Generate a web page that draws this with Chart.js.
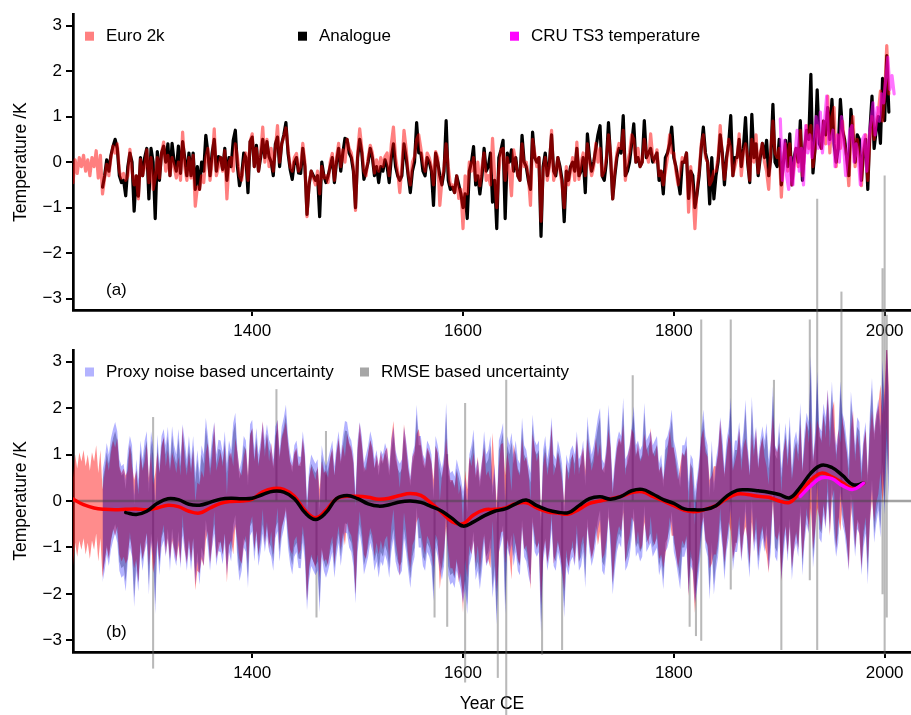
<!DOCTYPE html>
<html>
<head>
<meta charset="utf-8">
<script src="https://cdn.jsdelivr.net/npm/chart.js@4.4.1/dist/chart.umd.min.js"></script>
<style>
  html, body { margin: 0; padding: 0; background: #fff; }
  #wrap { position: relative; width: 911px; height: 715px; overflow: hidden; }
  canvas { position: absolute; left: 0; top: 0; }
</style>
</head>
<body>
<div id="wrap">
  <canvas id="chartTop" width="911" height="345"></canvas>
  <canvas id="chartBottom" width="911" height="715"></canvas>
</div>
<script>
// ---- data ----
// annual reconstructions, sampled every 2 years
const euroStart = 1230;
const euro2k = [
  -0.45, 0.05, -0.25, 0.1, -0.1,   0.15, -0.2, 0.05, -0.3, 0.1,
  -0.1, 0.25, -0.35, 0.15, -0.7,   -0.35, -0.05, -0.3, 0.1, 0.35,
  0.2, 0.4, -0.2, -0.35, -0.25,    -0.4, -0.3, 0.28, -0.2, -0.5,
  -0.3, -0.81, 0.06, -0.3, -0.1,   0.27, -0.45, 0.1, -0.6, -0.35,
  0.1, -0.35, 0.2, 0.44, -0.2,     0.15, -0.3, 0.1, -0.1, -0.35,
  0.0, -0.4, 0.66, -0.1, -0.4,     0.1, -0.35, 0.15, -0.97, -0.55,
  -0.6, -0.3, -0.45, 0.1, 0.3,     -0.4, 0.0, 0.73, -0.3, -0.1,
  0.1, -0.2, 0.25, -0.81, 0.0,     0.1, -0.2, 0.4, 0.1, -0.3,
  -0.4, 0.0, 0.2, -0.4, 0.45,      0.62, -0.1, 0.3, -0.2, 0.2,
  0.77, 0.0, 0.5, -0.1, 0.3,       -0.2, 0.3, 0.8, 0.0, 0.4,
  0.55, 0.75, 0.3, -0.1, -0.2,     0.1, 0.19, -0.2, -0.1, 0.41,
  0.0, -1.2, -0.45, -0.2, -0.35,   -0.5, -0.2, -0.7, -0.1, -0.35,
  -0.3, -0.45, 0.0, 0.19, -0.4,    0.1, 0.41, -0.1, 0.27, 0.0,
  0.5, 0.3, 0.2, -0.1, -1.06,      0.2, 0.73, 0.3, -0.2, -0.3,
  0.1, 0.37, 0.2, -0.24, 0.05,     -0.2, 0.1, -0.1, 0.12, 0.2,
  -0.3, 0.4, 0.77, 0.1, -0.2,      -0.67, -0.1, 0.7, 0.3, -0.24,
  -0.5, 0.0, 0.12, 0.5, 0.6,       0.3, 0.0, -0.2, 0.2, 0.1,
  -0.1, -0.5, 0.23, 0.1, -0.95,    -0.4, -0.1, 0.4, -0.1, -0.5,
  -0.5, -0.67, -0.3, -0.8, -0.6,   -1.46, -0.3, -0.7, 0.0, -0.2,
  0.1, -0.4, 0.0, -0.52, -0.1,     0.2, -0.4, -0.3, -0.5, 0.52,
  -0.3, -1.0, -0.2, 0.27, 0.3,     -0.4, 0.1, -0.2, -0.74, 0.27,
  0.0, -0.3, -0.4, 0.4, -0.1,      0.0, -0.3, -0.95, 0.5, 0.2,
  -0.1, 0.1, -1.3, -0.2, 0.1,      -0.4, -0.1, 0.7, -0.4, -0.2,
  0.1, -0.2, -0.5, -1.0, -0.1,     -0.5, -0.2, 0.1, -0.4, 0.44,
  -0.38, 0.0, 0.2, -0.3, 0.4,      0.0, -0.3, -0.1, 0.41, 0.0,
  0.3, -0.3, -0.2, 0.1, 0.6,       0.2, -0.81, -0.2, 0.2, 0.41,
  0.3, 0.7, -0.4, 0.0, 0.2,        0.6, 0.5, 0.0, 0.3, -0.1,
  0.0, 0.5, 0.2, 0.0, 0.62,        0.1, 0.0, 0.27, -0.3, -0.2,
  -0.5, -0.2, 0.1, 0.6, 0.2,       0.2, -0.2, -0.5, -0.2, 0.1,
  0.0, 0.2, -1.1, -0.1, -0.6,      -1.46, -0.6, -0.2, 0.4, 0.6,
  0.1, 0.0, -0.5, -0.4, -0.2,      -0.2, 0.1, 0.8, 0.1, -0.38,
  0.0, 0.5, 0.3, -0.3, -0.1,       0.1, 0.62, -0.3, 0.2, 0.4,
  0.1, -0.4, 0.5, 0.0, 0.6,        -0.24, 0.2, 0.41, 0.0, -0.2,
  -0.6, 0.3, 0.9, 0.2, 0.1,        0.3, -0.77, 0.1, 0.4, -0.2,
  0.4, -0.5, -0.1, 0.3, -0.1,      0.7, -0.3, 0.2, 0.8, 0.3,
  0.8, -0.1, 0.3, 0.8, 0.6,        0.3, 0.9, 0.4, 1.45, 0.2,
  1.0, 1.2, -0.1, 0.6, 0.3,        0.9, 0.4, 0.1, -0.52, 0.6,
  1.0, -0.1, 0.5, 0.2, -0.52,      0.3, 0.6, -0.4, 0.5, 1.0,
  0.5, 0.9, 1.1, 1.56, 0.9,        1.5, 2.56, 1.5
];

const analogueStart = 1258;
const analogue = [
  -0.55,
  -0.3, 0.05, -0.2, 0.15, 0.35,    0.5, 0.3, -0.3, -0.45, -0.4,
  -0.74, -0.1, 0.2, 0.0, -1.08,    -0.3, -0.75, 0.1, -0.3, 0.1,
  0.3, -0.81, 0.3, 0.0, -1.24,     0.23, -0.4, 0.2, 0.35, 0.0,
  0.4, -0.3, 0.41, 0.0, -0.2,      0.35, -0.25, 0.45, 0.1, -0.3,
  0.2, -0.3, 0.2, -0.6, -0.1,      -0.6, 0.0, -0.2, 0.59, 0.2,
  -0.3, 0.2, 0.5, -0.2, 0.12,      0.1, -0.16, 0.3, -0.4, 0.1,
  -0.1, 0.48, 0.7, -0.1, -0.52,    -0.3, 0.2, 0.1, -0.67, 0.45,
  0.55, -0.1, 0.37, -0.2, 0.1,     0.5, 0.1, 0.45, 0.12, 0.0,
  -0.3, 0.4, 0.55, -0.1, 0.4,      0.6, 0.87, 0.2, -0.16, -0.38,
  0.0, 0.1, -0.24, -0.25, 0.3,     -0.1, -1.15, -0.5, -0.2, -0.3,
  -0.4, -0.3, -1.2, 0.0, -0.3,     -0.45, -0.3, -0.1, 0.1, -0.45,
  0.0, 0.3, -0.2, 0.2, 0.52,       0.5, 0.2, 0.1, -0.2, -1.0,
  0.1, 0.5, 0.2, -0.38, -0.2,      0.0, 0.3, 0.1, -0.3, -0.1,
  -0.45, -0.1, -0.2, 0.05, -0.1,   -0.45, 0.1, 0.4, -0.1, -0.3,
  -0.4, -0.3, 0.4, 0.1, -0.3,      -0.67, -0.2, 0.0, 0.87, 0.2,
  0.2, -0.2, -0.3, 0.1, 0.0,       -0.2, -0.95, 0.2, 0.0, -0.3,
  -0.5, -0.2, 0.91, -0.4, -0.6,    -0.55, -0.67, -0.3, -0.5, -0.7,
  -1.0, -0.7, -1.24, -0.2, 0.0,    0.34, -0.5, -0.3, -0.7, -0.3,
  0.3, -0.2, -0.1, 0.2, -0.88,     -0.4, -1.46, 0.1, 0.27, 0.48,
  -1.24, 0.2, 0.0, 0.27, -0.2,     0.1, -0.3, -0.4, 0.59, 0.0,
  -0.1, -0.4, -0.6, 0.66, 0.1,     0.0, 0.1, -1.63, -0.1, 0.2,
  -0.3, 0.0, 0.6, -0.2, -0.3,      0.1, -0.1, -0.4, -1.31, -0.2,
  -0.4, -0.1, 0.0, -0.2, 0.3,      -0.3, -0.2, 0.1, -0.67, 0.62,
  0.1, -0.2, 0.0, 0.3, 0.6,        0.8, -0.3, -0.4, 0.0, 0.87,
  0.1, -0.81, -0.3, 0.1, 0.3,      0.2, 1.02, -0.3, -0.2, 0.0,
  0.4, 0.84, 0.0, 0.1, -0.1,       0.0, 0.91, 0.1, 0.2, 0.3,
  0.0, 0.1, 0.2, -0.4, -0.2,       -0.7, 0.1, 0.2, 0.4, 0.77,
  0.1, -0.1, -0.4, -0.7, 0.0,      0.0, 0.2, -0.8, -0.2, -0.3,
  -1.0, -0.7, -0.3, 0.3, 0.77,     0.2, 0.0, -0.92, 0.1, -0.81,
  -0.3, 0.0, 0.6, 0.2, -0.5,       0.1, 0.4, 1.02, -0.3, 0.1,
  0.1, 0.5, -0.1, 0.3, 0.98,       0.0, -0.45, 1.05, 0.1, 0.4,
  -0.3, 0.1, 0.41, 0.1, 0.48,      -0.3, 0.1, 1.27, 0.0, -0.1,
  0.5, -0.5, 0.0, 0.48, -0.1,      0.62, -0.5, 0.1, 0.3, 0.0,
  0.91, -0.4, 0.3, 0.7, 0.5,       1.93, -0.24, 0.3, 1.59, 0.4,
  0.3, 0.9, 0.6, 1.2, 0.5,         1.38, 0.4, 0.0, 0.3, 1.38,
  0.7, 0.5, 0.1, -0.3, 1.16,       0.6, 0.0, 0.6, 0.5, -0.4,
  0.2, 0.5, -0.6, 0.7, 1.45,       0.3, 0.7, 1.0, 0.41, 1.84,
  0.91, 2.34, 1.1
];

const cruStart = 1901;
const cru = [
  0.95, -0.4, 0.48, -0.3, -0.6,    0.1, -0.5, 0.2, 0.7, -0.2,
  0.3, -0.5, 0.8, 0.2, 0.6,        0.1, 0.5, 1.0, 0.3, 1.1,
  0.2, 0.9, 1.45, 0.4, 0.5,        0.7, -0.1, 0.6, 0.0, 1.0,
  0.4, -0.3, 0.2, 0.7, 0.8,        0.0, 0.4, 0.1, -0.5, 0.5,
  0.6, -0.2, 0.5, 0.9, 1.3,        0.6, 1.2, 0.9, 1.5, 1.3,
  1.8, 2.3, 1.6, 1.9, 1.5
];

// smoothed curves, every 10 years
const euroSmoothStart = 1230;
const euroSmooth = [
  0.04, -0.08, -0.15, -0.18, -0.19, -0.18, -0.17,
  -0.19, -0.15, -0.09, -0.12, -0.22, -0.26, -0.15, -0.05, -0.01, 0.0,
  0.04, 0.2, 0.27, 0.25, 0.1, -0.2, -0.36, -0.2, 0.05, 0.1,
  0.1, 0.08, 0.04, 0.06, 0.12, 0.16, 0.12, -0.05, -0.25, -0.45,
  -0.49, -0.3, -0.19, -0.18, -0.15, -0.06, -0.04, -0.15, -0.23, -0.26,
  -0.28, -0.18, -0.05, 0.0, 0.05, 0.1, 0.18, 0.2, 0.1, 0.0,
  -0.1, -0.2, -0.23, -0.18, -0.1, 0.05, 0.15, 0.14, 0.1, 0.08,
  0.0, -0.03, 0.2, 0.45, 0.6, 0.52, 0.39, 0.27, 0.38
];
const analogueSmoothStart = 1280;
const analogueSmooth = [
  -0.25, -0.29,
  -0.22, -0.05, 0.05, 0.03, -0.07, -0.09, -0.03, 0.04, 0.06, 0.05,
  0.06, 0.14, 0.21, 0.19, 0.05, -0.25, -0.4, -0.25, 0.05, 0.12,
  0.05, -0.06, -0.11, -0.08, -0.02, 0.0, -0.03, -0.12, -0.22, -0.38,
  -0.54, -0.45, -0.32, -0.22, -0.17, -0.06, 0.02, -0.1, -0.19, -0.24,
  -0.25, -0.1, 0.05, 0.09, 0.04, 0.1, 0.22, 0.25, 0.15, 0.03,
  -0.05, -0.17, -0.19, -0.18, -0.1, 0.1, 0.23, 0.24, 0.22, 0.19,
  0.14, 0.07, 0.3, 0.6, 0.77, 0.72, 0.55, 0.35, 0.38
];
const cruSmoothStart = 1920;
const cruSmooth = [0.1, 0.33, 0.5, 0.48, 0.33, 0.25, 0.38];

// uncertainty half-widths (K)
const euroErr = 0.95;
const proxyErr = 1.2;
const rmseErr = 1.0;

// years where the RMSE based uncertainty blows up
const spikeYears = [1306, 1423, 1461, 1470, 1573, 1585, 1602, 1633, 1641, 1675, 1694, 1761,
                    1815, 1821, 1826, 1854, 1895, 1902, 1929, 1936, 1959, 1998, 2000, 2002];
const spikeLow   = [-3.6, 0.0, -2.5, 0.0, -2.5, -2.7, -3.9, -3.8, -4.6, -3.3, -3.2, 0.0,
                    -2.7, -2.9, -3.0, -1.9, 0.0, -3.2, -1.7, -3.2, 0.0, -2.0, -3.3, -2.5];
const spikeHigh  = [1.8, 2.4, 0.0, 1.5, 0.0, 1.0, 2.1, 0.0, 2.6, 0.0, 0.0, 2.7,
                    0.0, 0.0, 3.9, 3.9, 2.6, 0.0, 3.9, 6.5, 4.5, 5.0, 7.0, 4.0];

const xTicks = [1400, 1600, 1800, 2000];
const yTicks = [-3, -2, -1, 0, 1, 2, 3];

// ---- helpers ----
function pts(start, step, vals, shift) {
  const d = shift || 0;
  return vals.map((v, i) => ({ x: start + i * step, y: v + d }));
}

Chart.defaults.font.family = '"Liberation Sans", Arial, Helvetica, sans-serif';
Chart.defaults.font.size = 17;
Chart.defaults.color = '#000';

function panelDecor(items, tag) {
  return {
    id: 'panelDecor',
    afterDraw(chart) {
      const { ctx, chartArea } = chart;
      ctx.save();
      ctx.font = '17px "Liberation Sans", Arial, sans-serif';
      ctx.textBaseline = 'middle';
      const y = chartArea.top + 22;
      items.forEach(it => {
        const x = chartArea.left + it.dx;
        ctx.fillStyle = it.color;
        ctx.fillRect(x, y - 4.5, 9, 9);
        ctx.fillStyle = '#000';
        ctx.fillText(it.text, x + 21, y);
      });
      ctx.fillStyle = '#000';
      ctx.fillText(tag, chartArea.left + 33, chartArea.bottom - 20);
      ctx.restore();
    }
  };
}

// zero reference line, drawn over the bands but under the smoothed curves
const zeroLine = {
  id: 'zeroLine',
  afterDatasetDraw(chart, args) {
    if (args.index !== 3) return;
    const { ctx, chartArea, scales } = chart;
    const y = scales.y.getPixelForValue(0);
    ctx.save();
    ctx.strokeStyle = 'rgba(70,70,70,0.5)';
    ctx.lineWidth = 2.5;
    ctx.beginPath();
    ctx.moveTo(chartArea.left, y);
    ctx.lineTo(chartArea.right, y);
    ctx.stroke();
    ctx.restore();
  }
};

function scales(xHeight, xTitle) {
  return {
    x: {
      type: 'linear', min: 1230, max: 2025, offset: false,
      afterBuildTicks: s => { s.ticks = xTicks.map(v => ({ value: v })); },
      afterFit: s => { s.height = xHeight; },
      ticks: { color: '#000', padding: 5, maxRotation: 0, autoSkip: false, callback: v => String(v) },
      grid: { display: true, offset: false, drawOnChartArea: false, tickLength: 6, color: '#000', lineWidth: 2 },
      border: { display: true, color: '#000', width: 2.7 },
      title: xTitle
        ? { display: true, text: xTitle, color: '#000', font: { size: 17.5 }, padding: { top: 0, bottom: 0 } }
        : { display: false }
    },
    y: {
      type: 'linear', min: -3.25, max: 3.25,
      afterBuildTicks: s => { s.ticks = yTicks.map(v => ({ value: v })); },
      afterFit: s => { s.width = 73; },
      ticks: { color: '#000', padding: 4, callback: v => String(v).replace('-', '\u2212') },
      grid: { display: true, drawOnChartArea: false, tickLength: 7, color: '#000', lineWidth: 2 },
      border: { display: true, color: '#000', width: 2.7 },
      title: { display: true, text: 'Temperature /K', color: '#000', font: { size: 17.5 }, padding: { top: 11, bottom: 0 } }
    }
  };
}

const common = {
  responsive: false,
  animation: false,
  devicePixelRatio: 1,
  events: [],
  plugins: { legend: { display: false }, tooltip: { enabled: false } },
  elements: { point: { radius: 0 }, line: { borderJoinStyle: 'round', borderCapStyle: 'round' } }
};

// ---- panel (a) ----
new Chart(document.getElementById('chartTop'), {
  type: 'line',
  data: {
    datasets: [
      { label: 'CRU TS3 temperature', data: pts(cruStart, 2, cru), borderColor: 'rgba(255,0,255,0.55)', borderWidth: 3.2, tension: 0 },
      { label: 'Euro 2k', data: pts(euroStart, 2, euro2k), borderColor: 'rgba(255,0,0,0.5)', borderWidth: 3.2, tension: 0 },
      { label: 'Analogue', data: pts(analogueStart, 2, analogue), borderColor: '#000', borderWidth: 3.2, tension: 0 }
    ]
  },
  options: Object.assign({}, common, {
    layout: { padding: { top: 8, left: 0, right: 0, bottom: 0 } },
    scales: scales(35, null)
  }),
  plugins: [panelDecor([
    { dx: 12, color: '#ff8080', text: 'Euro 2k' },
    { dx: 225, color: '#000000', text: 'Analogue' },
    { dx: 437, color: '#ff00ff', text: 'CRU TS3 temperature' }
  ], '(a)')]
});

// ---- panel (b) ----
new Chart(document.getElementById('chartBottom'), {
  type: 'line',
  data: {
    datasets: [
      { label: 'CRU smooth', data: pts(cruSmoothStart, 10, cruSmooth), borderColor: '#ff00ff', borderWidth: 3.5, tension: 0.4 },
      { label: 'Analogue smooth', data: pts(analogueSmoothStart, 10, analogueSmooth), borderColor: '#000', borderWidth: 3.5, tension: 0.4 },
      { label: 'Euro 2k smooth', data: pts(euroSmoothStart, 10, euroSmooth), borderColor: '#ff0000', borderWidth: 3.5, tension: 0.4 },
      { label: 'Proxy noise based uncertainty', data: pts(analogueStart, 2, analogue, proxyErr), borderWidth: 0, fill: '+1', backgroundColor: 'rgba(0,0,255,0.3)', tension: 0 },
      { label: 'proxy low', data: pts(analogueStart, 2, analogue, -proxyErr), borderWidth: 0, fill: false, tension: 0 },
      { label: 'Euro 2k uncertainty', data: pts(euroStart, 2, euro2k, euroErr), borderWidth: 0, fill: '+1', backgroundColor: 'rgba(255,0,0,0.45)', tension: 0 },
      { label: 'euro low', data: pts(euroStart, 2, euro2k, -euroErr), borderWidth: 0, fill: false, tension: 0 },
      { label: 'RMSE based uncertainty', data: pts(analogueStart, 2, analogue, rmseErr), borderWidth: 0, fill: '+1', backgroundColor: 'rgba(0,0,0,0.3)', tension: 0 },
      { label: 'rmse low', data: pts(analogueStart, 2, analogue, -rmseErr), borderWidth: 0, fill: false, tension: 0 },
      { type: 'bar', label: 'RMSE spikes', data: spikeYears.map((yr, i) => ({ x: yr, y: [spikeLow[i], spikeHigh[i]] })),
        backgroundColor: 'rgba(100,100,100,0.45)', barThickness: 1.4, grouped: false, clip: false }
    ]
  },
  options: Object.assign({}, common, {
    layout: { padding: { top: 350, left: 0, right: 0, bottom: 0 } },
    scales: scales(63, 'Year CE')
  }),
  plugins: [zeroLine, panelDecor([
    { dx: 12, color: '#b3b3ff', text: 'Proxy noise based uncertainty' },
    { dx: 287, color: '#a6a6a6', text: 'RMSE based uncertainty' }
  ], '(b)')]
});
</script>
</body>
</html>
